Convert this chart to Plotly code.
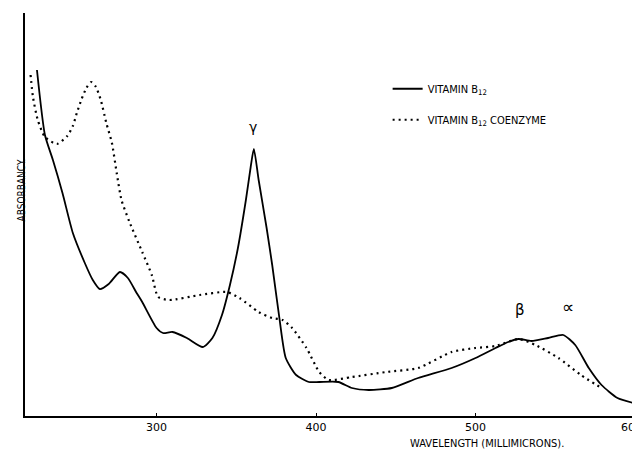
import plotly.graph_objects as go

# Vitamin B12 (solid)
b12_nm = [225, 230, 235, 241, 247.5, 255, 260, 264.4, 270, 277, 282, 287.5, 291, 300, 304, 310,
          319, 329, 335, 341, 346, 351, 356, 359, 361, 364, 369, 372.5, 377, 381, 387.5, 395.5,
          402, 414, 422.5, 433, 447.5, 464, 485, 500, 512.5, 520.5, 527, 535, 545.5, 555, 562.5,
          571, 579, 589, 599]
b12_abs = [3.46, 2.81, 2.56, 2.23, 1.83, 1.53, 1.36, 1.27, 1.32, 1.44, 1.38, 1.23, 1.14, 0.88,
           0.83, 0.84, 0.78, 0.69, 0.78, 1.01, 1.31, 1.68, 2.16, 2.49, 2.67, 2.36, 1.88, 1.51,
           0.98, 0.58, 0.41, 0.34, 0.34, 0.34, 0.28, 0.26, 0.28, 0.38, 0.48, 0.58, 0.68, 0.74,
           0.77, 0.75, 0.78, 0.81, 0.71, 0.48, 0.31, 0.18, 0.13]

# Vitamin B12 coenzyme (dotted)
coenz_nm = [221, 222.5, 225.5, 230, 237.5, 244, 247.5, 250, 253, 256, 259, 262, 265, 268.5,
            272, 275, 278, 283, 291, 297, 301, 308, 327, 344, 352, 364, 372.5, 379, 385, 394,
            402, 408, 422.5, 444, 464, 485, 500, 512.5, 527, 537.5, 552, 566, 579]
coenz_abs = [3.41, 3.19, 2.96, 2.79, 2.72, 2.80, 2.90, 3.03, 3.17, 3.28, 3.34, 3.29, 3.16, 2.93,
             2.73, 2.43, 2.16, 1.94, 1.64, 1.41, 1.19, 1.16, 1.21, 1.24, 1.18, 1.04, 0.98, 0.96,
             0.88, 0.68, 0.44, 0.36, 0.39, 0.44, 0.48, 0.64, 0.68, 0.70, 0.77, 0.71, 0.58, 0.41,
             0.28]

tick_vals = [300, 400, 500, 600]
tick_text = ["300", "400", "500", "600\u00a0\u00a0"]

band_labels = ["γ", "β", "∝"]
band_nm = [360.6, 528, 558]
band_abs = [2.89, 1.06, 1.09]
band_sizes = [14, 15, 17]

FONT = "Liberation Sans Narrow, DejaVu Sans Condensed, Arial Narrow, sans-serif"

fig = go.Figure()
fig.add_trace(go.Scatter(
    x=b12_nm, y=b12_abs, mode="lines", name="VITAMIN B<sub>12</sub>",
    line=dict(color="black", width=1.8, shape="spline", smoothing=0.6),
    legendgroup="a"))
fig.add_trace(go.Scatter(
    x=coenz_nm, y=coenz_abs, mode="lines", name="VITAMIN B<sub>12</sub> COENZYME",
    line=dict(color="black", width=2.2, dash="2px,4px", shape="spline", smoothing=0.6),
    legendgroup="b"))

for t, xv, yv, s in zip(band_labels, band_nm, band_abs, band_sizes):
    fig.add_annotation(x=xv, y=yv, text=t, showarrow=False,
                       font=dict(family="DejaVu Sans", size=s, color="black"))

fig.add_annotation(x=-0.018, y=0.561, xref="paper", yref="paper", text="ABSORBANCY.",
                   textangle=-90, showarrow=False,
                   font=dict(family=FONT, size=10, color="black"))
fig.add_annotation(x=0.756, y=-0.068, xref="paper", yref="paper",
                   text="WAVELENGTH (MILLIMICRONS).", showarrow=False,
                   xanchor="center", yanchor="middle",
                   font=dict(family=FONT, size=11, color="black"))

fig.update_layout(
    width=632, height=441,
    margin=dict(l=17, r=4, t=5, b=33, autoexpand=False),
    paper_bgcolor="white", plot_bgcolor="white",
    showlegend=True,
    legend=dict(x=0.5935, y=0.848, xanchor="left", yanchor="top",
                bgcolor="rgba(0,0,0,0)", traceorder="grouped", tracegroupgap=12,
                itemwidth=30,
                font=dict(family=FONT, size=11, color="black")),
    xaxis=dict(range=[217.5, 600.6], tickvals=tick_vals, ticktext=tick_text,
               ticklabeloverflow="allow", automargin=False,
               showgrid=False, zeroline=False, showline=True, linecolor="black",
               linewidth=1.5, ticks="inside", ticklen=3, tickcolor="black",
               tickfont=dict(family="DejaVu Sans", size=11, color="black")),
    yaxis=dict(range=[0, 4.03], showticklabels=False, showgrid=False, zeroline=False,
               showline=True, linecolor="black", linewidth=1.5, ticks="",
               automargin=False),
)

fig.write_html("out.html")
